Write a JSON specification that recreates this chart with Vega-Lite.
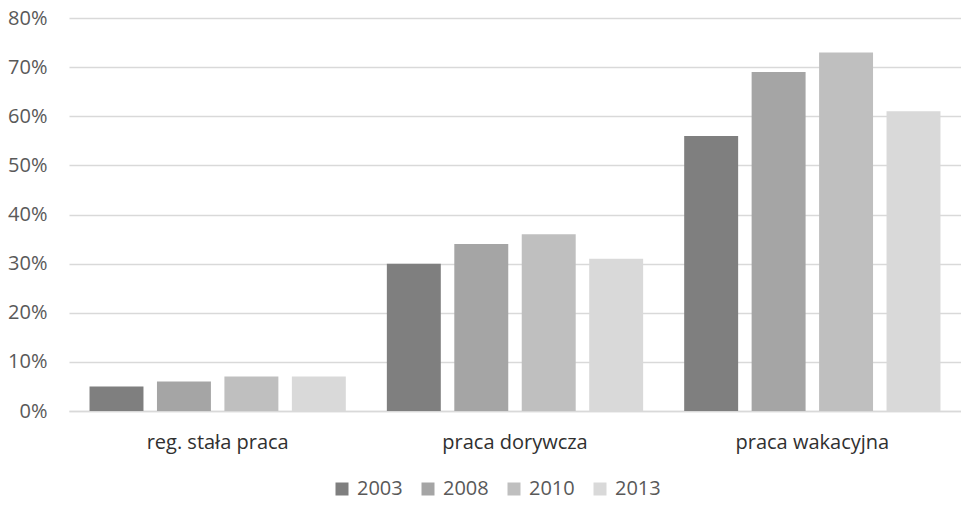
{
  "$schema": "https://vega.github.io/schema/vega-lite/v6.json",
  "width": 892,
  "height": 393,
  "autosize": "none",
  "padding": {"left": 69, "top": 18, "right": 0, "bottom": 94},
  "background": "white",
  "config": {
    "view": {"stroke": null},
    "font": "Open Sans",
    "axis": {"labelFont": "Open Sans", "labelColor": "#595959", "labelFontSize": 20},
    "legend": {"labelFont": "Open Sans", "labelColor": "#595959", "labelFontSize": 20}
  },
  "data": {
    "values": [
      {"kategoria": "reg. stała praca", "rok": "2003", "wartosc": 0.05},
      {"kategoria": "reg. stała praca", "rok": "2008", "wartosc": 0.06},
      {"kategoria": "reg. stała praca", "rok": "2010", "wartosc": 0.07},
      {"kategoria": "reg. stała praca", "rok": "2013", "wartosc": 0.07},
      {"kategoria": "praca dorywcza", "rok": "2003", "wartosc": 0.30},
      {"kategoria": "praca dorywcza", "rok": "2008", "wartosc": 0.34},
      {"kategoria": "praca dorywcza", "rok": "2010", "wartosc": 0.36},
      {"kategoria": "praca dorywcza", "rok": "2013", "wartosc": 0.31},
      {"kategoria": "praca wakacyjna", "rok": "2003", "wartosc": 0.56},
      {"kategoria": "praca wakacyjna", "rok": "2008", "wartosc": 0.69},
      {"kategoria": "praca wakacyjna", "rok": "2010", "wartosc": 0.73},
      {"kategoria": "praca wakacyjna", "rok": "2013", "wartosc": 0.61}
    ]
  },
  "mark": {"type": "bar"},
  "encoding": {
    "x": {
      "field": "kategoria",
      "type": "nominal",
      "sort": ["reg. stała praca", "praca dorywcza", "praca wakacyjna"],
      "scale": {"paddingInner": 0.138, "paddingOuter": 0.069},
      "axis": {"title": null, "labelAngle": 0, "ticks": false, "domainColor": "#d9d9d9", "domainWidth": 1.5, "labelPadding": 21, "labelColor": "#303030"}
    },
    "xOffset": {
      "field": "rok",
      "type": "nominal",
      "scale": {"paddingInner": 0.2, "paddingOuter": 0}
    },
    "y": {
      "field": "wartosc",
      "type": "quantitative",
      "scale": {"domain": [0, 0.8], "nice": false},
      "axis": {"title": null, "format": ".0%", "values": [0, 0.1, 0.2, 0.3, 0.4, 0.5, 0.6, 0.7, 0.8], "labelOverlap": false, "ticks": false, "domain": false, "gridColor": "#d9d9d9", "gridWidth": 1.5, "labelPadding": 22}
    },
    "color": {
      "field": "rok",
      "type": "nominal",
      "scale": {"domain": ["2003", "2008", "2010", "2013"], "range": ["#7f7f7f", "#a5a5a5", "#bfbfbf", "#d9d9d9"]},
      "legend": {"title": null, "orient": "none", "legendX": 263, "legendY": 461, "direction": "horizontal", "symbolType": "square", "symbolSize": 169, "symbolStrokeWidth": 0, "columnPadding": 15, "labelOffset": 5}
    }
  }
}
